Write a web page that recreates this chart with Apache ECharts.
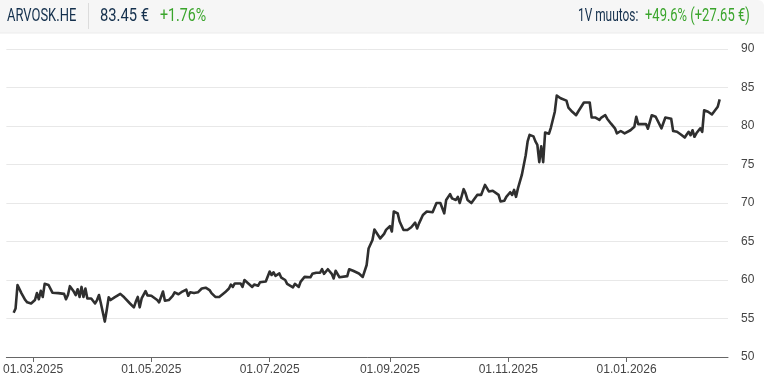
<!DOCTYPE html>
<html><head><meta charset="utf-8">
<script src="https://cdn.jsdelivr.net/npm/echarts@6/dist/echarts.min.js"></script>
<style>html,body{margin:0;padding:0;background:#fff}#c{width:764px;height:380px}</style>
</head><body><div id="c"></div>
<script>
const dates = ['2025-02-19','2025-02-20','2025-02-21','2025-02-23','2025-02-25','2025-02-26','2025-02-28','2025-03-02','2025-03-03','2025-03-04','2025-03-05','2025-03-06','2025-03-07','2025-03-09','2025-03-10','2025-03-11','2025-03-14','2025-03-15','2025-03-17','2025-03-18','2025-03-19','2025-03-20','2025-03-22','2025-03-23','2025-03-24','2025-03-25','2025-03-26','2025-03-27','2025-03-28','2025-03-29','2025-03-31','2025-04-01','2025-04-02','2025-04-03','2025-04-04','2025-04-05','2025-04-07','2025-04-08','2025-04-09','2025-04-10','2025-04-12','2025-04-15','2025-04-17','2025-04-20','2025-04-22','2025-04-23','2025-04-24','2025-04-25','2025-04-26','2025-04-28','2025-04-29','2025-05-01','2025-05-04','2025-05-05','2025-05-07','2025-05-08','2025-05-10','2025-05-12','2025-05-13','2025-05-15','2025-05-17','2025-05-19','2025-05-20','2025-05-21','2025-05-23','2025-05-25','2025-05-26','2025-05-27','2025-05-28','2025-05-29','2025-05-31','2025-06-01','2025-06-03','2025-06-05','2025-06-06','2025-06-08','2025-06-10','2025-06-11','2025-06-12','2025-06-13','2025-06-14','2025-06-16','2025-06-17','2025-06-18','2025-06-20','2025-06-22','2025-06-23','2025-06-25','2025-06-26','2025-06-29','2025-06-30','2025-07-01','2025-07-02','2025-07-03','2025-07-04','2025-07-06','2025-07-07','2025-07-09','2025-07-10','2025-07-13','2025-07-14','2025-07-16','2025-07-17','2025-07-19','2025-07-22','2025-07-23','2025-07-25','2025-07-27','2025-07-28','2025-07-29','2025-07-31','2025-08-02','2025-08-03','2025-08-04','2025-08-06','2025-08-07','2025-08-10','2025-08-11','2025-08-13','2025-08-14','2025-08-16','2025-08-18','2025-08-19','2025-08-20','2025-08-21','2025-08-23','2025-08-24','2025-08-25','2025-08-27','2025-08-29','2025-08-30','2025-09-01','2025-09-02','2025-09-03','2025-09-04','2025-09-05','2025-09-06','2025-09-08','2025-09-10','2025-09-12','2025-09-14','2025-09-15','2025-09-16','2025-09-18','2025-09-20','2025-09-21','2025-09-23','2025-09-25','2025-09-27','2025-09-28','2025-09-29','2025-09-30','2025-10-02','2025-10-03','2025-10-05','2025-10-06','2025-10-07','2025-10-09','2025-10-10','2025-10-11','2025-10-13','2025-10-14','2025-10-16','2025-10-18','2025-10-19','2025-10-20','2025-10-22','2025-10-24','2025-10-25','2025-10-27','2025-10-28','2025-10-30','2025-10-31','2025-11-02','2025-11-03','2025-11-04','2025-11-05','2025-11-06','2025-11-08','2025-11-10','2025-11-11','2025-11-12','2025-11-14','2025-11-15','2025-11-16','2025-11-17','2025-11-18','2025-11-19','2025-11-20','2025-11-21','2025-11-22','2025-11-23','2025-11-24','2025-11-25','2025-11-26','2025-11-28','2025-11-29','2025-12-01','2025-12-02','2025-12-04','2025-12-06','2025-12-07','2025-12-08','2025-12-10','2025-12-11','2025-12-13','2025-12-14','2025-12-16','2025-12-18','2025-12-19','2025-12-21','2025-12-22','2025-12-24','2025-12-26','2025-12-27','2025-12-29','2025-12-31','2026-01-01','2026-01-03','2026-01-05','2026-01-06','2026-01-07','2026-01-09','2026-01-11','2026-01-12','2026-01-13','2026-01-14','2026-01-16','2026-01-17','2026-01-19','2026-01-20','2026-01-21','2026-01-24','2026-01-25','2026-01-27','2026-01-29','2026-01-31','2026-02-01','2026-02-02','2026-02-03','2026-02-04','2026-02-05','2026-02-06','2026-02-08','2026-02-09','2026-02-10','2026-02-12','2026-02-14','2026-02-15','2026-02-17','2026-02-18'];
const prices = [55.75,56.3,59.35,58.3,57.4,57.1,56.95,57.4,58.3,57.5,58.6,57.8,59.5,59.35,59.2,58.35,58.3,58.35,58.2,57.5,58.05,59.2,58.5,58.05,58.8,57.8,59.1,57.8,58.9,57.6,57.6,57.7,56.95,57.4,58.05,56.95,54.6,56.1,57.75,57.4,57.75,58.2,57.75,56.95,56.45,57.2,57.8,56.45,57.6,58.55,58.0,57.95,57.4,57.1,58.5,57.3,57.4,57.95,58.4,58.15,58.5,58.75,57.95,58.4,58.3,58.4,58.4,58.9,58.75,59.0,58.7,58.3,57.8,57.8,58.05,58.4,58.9,59.4,59.1,59.55,59.55,59.55,59.1,60.0,59.55,59.1,59.4,59.25,59.7,59.8,59.8,61.1,60.65,61.0,60.55,60.85,60.3,60.0,59.5,59.05,59.5,59.1,59.8,60.4,60.35,60.8,60.95,60.95,61.4,60.8,61.4,60.8,60.2,61.2,60.35,60.4,60.5,61.4,61.2,61.3,60.85,60.4,60.65,61.95,64.1,65.2,66.55,66.3,65.4,66.0,66.5,67.0,66.3,68.9,69.1,68.65,67.6,66.5,66.5,66.85,67.45,66.7,67.35,68.45,68.9,69.1,68.8,70.0,70.0,69.85,68.65,70.4,71.15,70.6,70.4,70.8,70.0,71.8,71.25,70.4,70.0,70.2,71.05,71.05,71.15,72.35,71.5,71.6,71.5,71.05,70.2,70.3,70.8,71.4,71.05,71.7,70.8,71.9,73.65,76.2,78.0,78.85,78.65,78.0,77.55,75.3,77.35,75.3,79.15,79.25,79.0,79.8,79.9,81.85,83.95,83.6,83.4,83.3,82.4,81.85,81.4,81.85,81.65,83.05,83.05,83.05,81.1,81.1,80.8,81.1,81.4,80.95,80.3,79.7,79.05,79.35,79.05,79.2,79.45,79.9,81.2,80.25,80.25,80.25,79.65,79.65,81.4,81.2,80.95,79.7,79.8,81.1,80.95,79.35,79.25,78.9,78.5,78.9,79.25,78.8,79.45,78.6,79.05,79.7,79.25,82.05,81.85,81.5,81.65,82.5,83.45];
const xTicks = ['2025-03-01','2025-05-01','2025-07-01','2025-09-01','2025-11-01','2026-01-01'];
const yMin = 50, yMax = 90, yStep = 5;
const ticker = 'ARVOSK.HE', lastPrice = '83.45 €', dayChange = '+1.76%';
const yearLabel = '1V muutos:', yearChange = '+49.6% (+27.65 €)';

function ts(s){const p=s.split('-').map(Number);return new Date(p[0],p[1]-1,p[2]).getTime();}
const tickTs = xTicks.map(ts);
const xMin = new Date(2025,1,15,6).getTime();
const xMax = new Date(2026,1,22,7).getTime();
function pad(n){return (n<10?'0':'')+n;}

const chart = echarts.init(document.getElementById('c'), null, {renderer:'canvas'});
const navy = '#14304d', green = '#3aa52c';
const hf = 'Roboto, sans-serif';
chart.setOption({
  animation:false,
  grid:{left:0,right:36,top:49,bottom:23,containLabel:false},
  xAxis:{type:'value',min:xMin,max:xMax,
    axisLine:{lineStyle:{color:'#666',width:1}},
    axisTick:{show:true,customValues:tickTs,length:5,lineStyle:{color:'#666'}},
    axisLabel:{customValues:tickTs,color:'#444',fontSize:12,fontFamily:'Liberation Sans, Arial, sans-serif',margin:7,
      formatter:function(v){const d=new Date(v);return pad(d.getDate())+'.'+pad(d.getMonth()+1)+'.'+d.getFullYear();}},
    splitLine:{show:false}},
  yAxis:{type:'value',position:'right',min:yMin,max:yMax,interval:yStep,
    axisLine:{show:false},axisTick:{show:false},
    axisLabel:{color:'#444',fontSize:12,fontFamily:'Liberation Sans, Arial, sans-serif',margin:13},
    splitLine:{lineStyle:{color:'#e8e8e8',width:1}}},
  series:[{type:'line',showSymbol:false,symbol:'none',
    data:dates.map((d,i)=>[ts(d),prices[i]]),
    lineStyle:{color:'#2f2f2f',width:2.6,join:'round'}}],
  graphic:[
    {type:'rect',shape:{x:0,y:0,width:764,height:33,r:[0,6,0,0]},style:{fill:'#f6f6f6'},z:10},
    {type:'line',shape:{x1:0,y1:33,x2:764,y2:33},style:{stroke:'#ececec',lineWidth:1},z:10},
    {type:'line',shape:{x1:88.5,y1:3,x2:88.5,y2:29},style:{stroke:'#dcdcdc',lineWidth:1},z:11},
    {type:'text',x:7,y:16,scaleX:0.72,style:{text:ticker,font:'18px '+hf,fill:navy,textVerticalAlign:'middle'},z:11},
    {type:'text',x:100,y:16,scaleX:0.82,style:{text:lastPrice,font:'18px '+hf,fill:navy,textVerticalAlign:'middle'},z:11},
    {type:'text',x:160,y:16,scaleX:0.79,style:{text:dayChange,font:'18px '+hf,fill:green,textVerticalAlign:'middle'},z:11},
    {type:'text',x:578,y:16,scaleX:0.66,style:{text:yearLabel,font:'18px '+hf,fill:navy,textVerticalAlign:'middle'},z:11},
    {type:'text',x:645,y:16,scaleX:0.72,style:{text:yearChange,font:'18px '+hf,fill:green,textVerticalAlign:'middle'},z:11}
  ]
});
</script></body></html>
